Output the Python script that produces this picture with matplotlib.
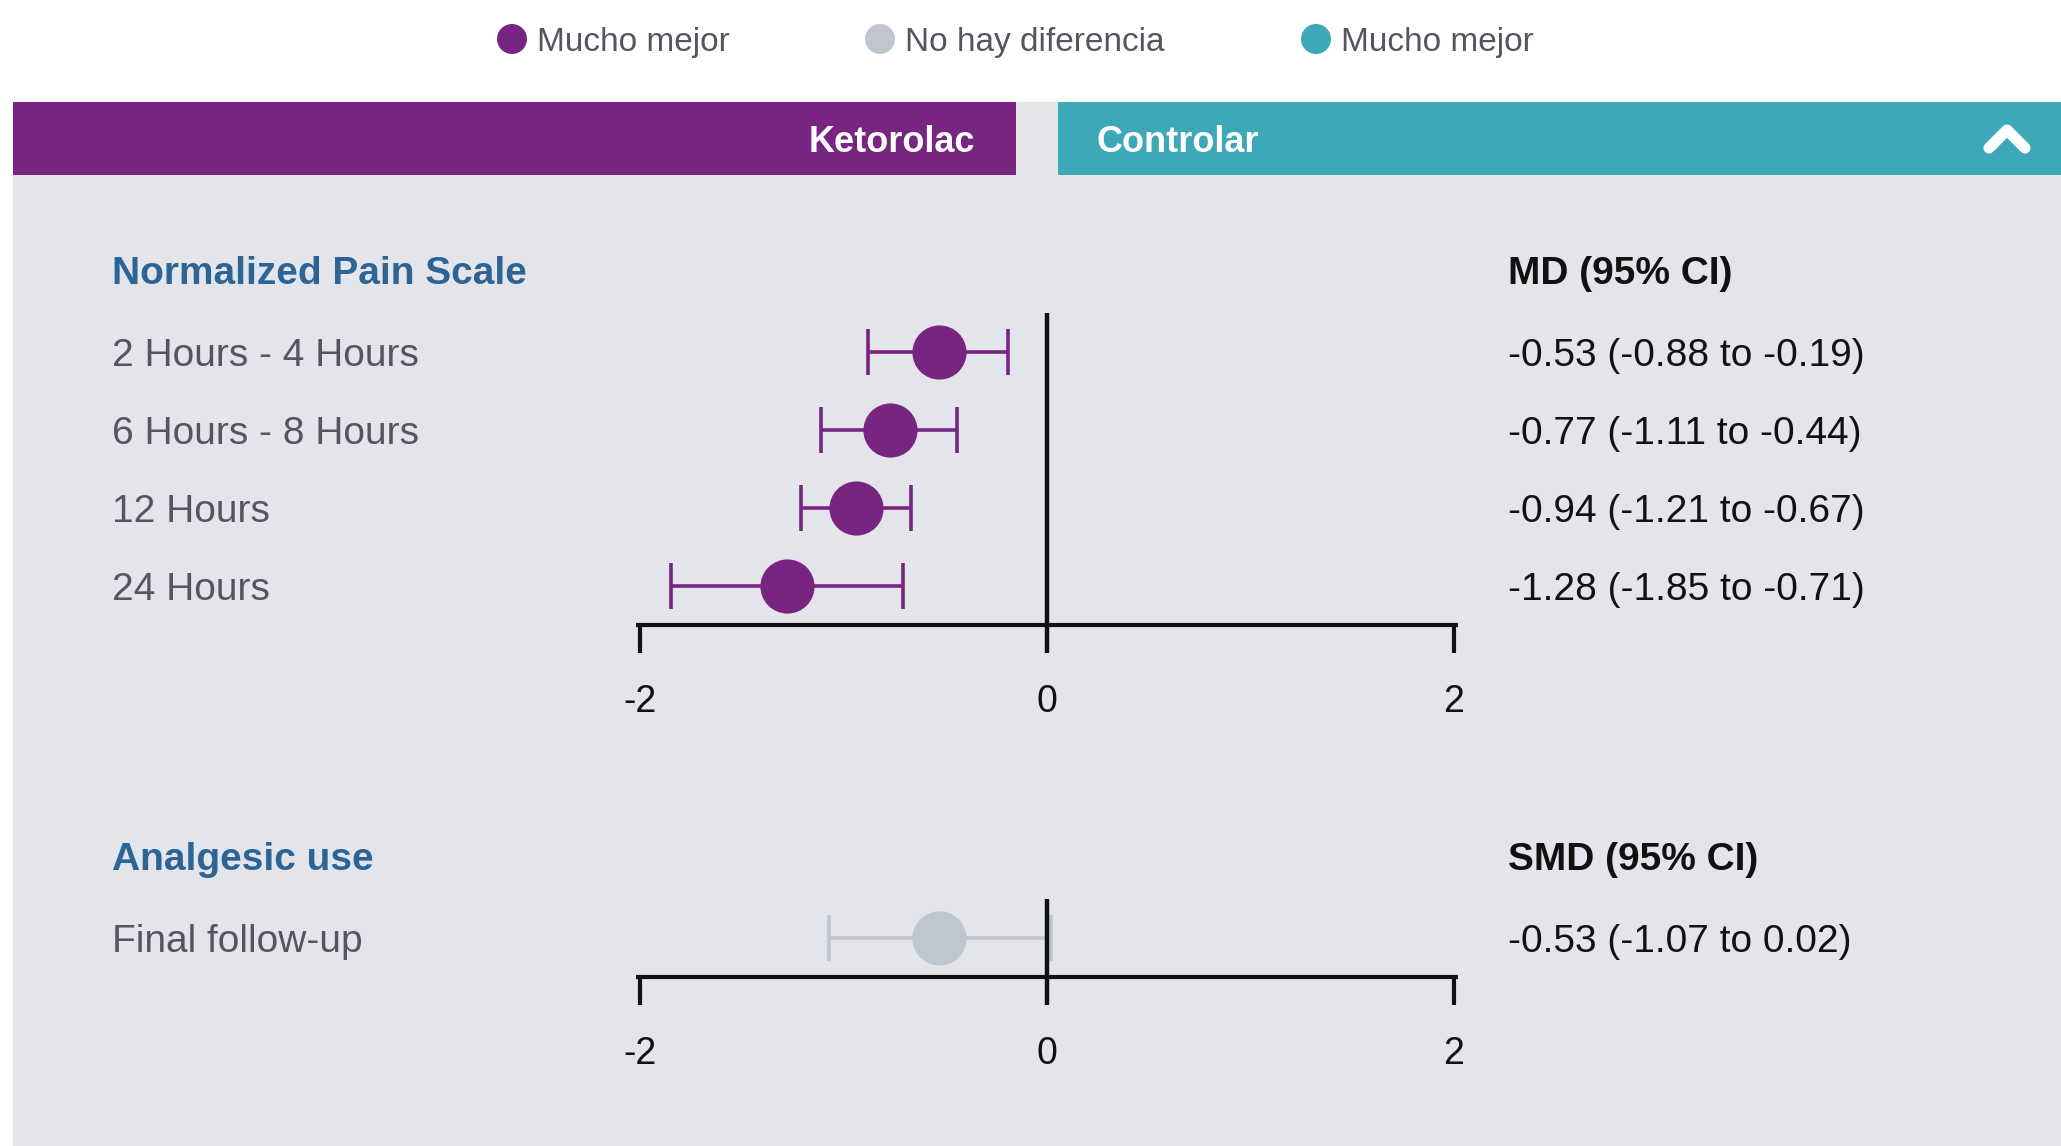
import matplotlib
matplotlib.use("Agg")
import matplotlib.pyplot as plt
from matplotlib.patches import Rectangle
from matplotlib.lines import Line2D

plt.rcParams['font.family'] = ['Liberation Sans', 'DejaVu Sans']

# ---------------- data ----------------
legend_labels = ["Mucho mejor", "No hay diferencia", "Mucho mejor"]
header_left = "Ketorolac"
header_right = "Controlar"

sec1_title = "Normalized Pain Scale"
sec1_stat = "MD (95% CI)"
sec1_labels = ["2 Hours - 4 Hours", "6 Hours - 8 Hours", "12 Hours", "24 Hours"]
sec1_est = [-0.53, -0.77, -0.94, -1.28]
sec1_lo = [-0.88, -1.11, -1.21, -1.85]
sec1_hi = [-0.19, -0.44, -0.67, -0.71]

sec2_title = "Analgesic use"
sec2_stat = "SMD (95% CI)"
sec2_labels = ["Final follow-up"]
sec2_est = [-0.53]
sec2_lo = [-1.07]
sec2_hi = [0.02]

x_ticks = [-2, 0, 2]
x_ticklabels = ["-2", "0", "2"]

# ---------------- style ----------------
PURPLE = "#772581"
TEAL = "#3ca8b8"
GRAY = "#bec6cf"
PANEL = "#e4e5ea"
BLUE = "#2c6496"
LABEL = "#55555f"
DARK = "#111111"

W, H = 2061, 1146
fig = plt.figure(figsize=(W / 100, H / 100), dpi=100)
fig.patch.set_facecolor("white")


def fx(px):
    return px / W


def fy(py):
    return 1 - py / H


# panel background
fig.patches.append(Rectangle((fx(13), fy(H)), fx(W) - fx(13), fy(102) - fy(H),
                             transform=fig.transFigure, facecolor=PANEL, edgecolor="none", zorder=-2))
# header bars
fig.patches.append(Rectangle((fx(13), fy(175)), fx(1016) - fx(13), fy(102) - fy(175),
                             transform=fig.transFigure, facecolor=PURPLE, edgecolor="none", zorder=-1))
fig.patches.append(Rectangle((fx(1058), fy(175)), fx(W) - fx(1058), fy(102) - fy(175),
                             transform=fig.transFigure, facecolor=TEAL, edgecolor="none", zorder=-1))
fig.text(fx(975), fy(138), header_left, color="white", fontsize=26, fontweight="bold",
         ha="right", va="center_baseline")
fig.text(fx(1097), fy(138), header_right, color="white", fontsize=26, fontweight="bold",
         ha="left", va="center_baseline")
# chevron icon
fig.lines.append(Line2D([fx(1989), fx(2007), fx(2025)], [fy(148), fy(130), fy(148)],
                        transform=fig.transFigure, color="white", lw=8,
                        solid_capstyle="round", solid_joinstyle="round"))

# legend
leg_colors = [PURPLE, GRAY, TEAL]
leg_cx = [512, 880, 1316]
leg_ax = fig.add_axes([0, 0, 1, 1], facecolor="none")
leg_ax.set_zorder(5)
leg_ax.set_xlim(0, W)
leg_ax.set_ylim(H, 0)
leg_ax.axis("off")
leg_ax.scatter(leg_cx, [39] * 3, s=(30 * 0.72) ** 2, c=leg_colors, linewidths=0)
for lab, col, cx in zip(legend_labels, leg_colors, leg_cx):
    fig.text(fx(cx + 25), fy(39), lab, color=LABEL, fontsize=24, ha="left", va="center_baseline")


def color_for(lo, hi):
    if hi < 0:
        return PURPLE
    if lo > 0:
        return TEAL
    return GRAY


X_M2, X_P2 = 640, 1454
UNIT = (X_P2 - X_M2) / 4
ROW = 78


def section(title, stat, labels, est, lo, hi, top_row_px, title_px):
    n = len(labels)
    ax_x0, ax_x1 = 540, 1560
    ax_y0, ax_y1 = top_row_px - 70, top_row_px + ROW * (n - 1) + 170
    ax = fig.add_axes([fx(ax_x0), fy(ax_y1), fx(ax_x1) - fx(ax_x0), fy(ax_y0) - fy(ax_y1)],
                      facecolor="none")
    ax.set_zorder(6)
    ax.set_xlim(-2 - (X_M2 - ax_x0) / UNIT, 2 + (ax_x1 - X_P2) / UNIT)
    ax.set_ylim((ax_y1 - top_row_px) / ROW, (ax_y0 - top_row_px) / ROW)
    ax.axis("off")

    axis_y = n - 0.5
    tick_bot = axis_y + 0.36
    # axis line
    ax.hlines(axis_y, x_ticks[0] - 0.02, x_ticks[-1] + 0.02, color=DARK, lw=3, zorder=3)
    for t, tl in zip(x_ticks, x_ticklabels):
        if t != 0:
            ax.vlines(t, axis_y, tick_bot, color=DARK, lw=3, zorder=3)
        ax.text(t, axis_y + 0.94, tl, color=DARK, fontsize=27, ha="center", va="center_baseline")
    # zero line
    ax.vlines(0, -0.5, tick_bot, color=DARK, lw=3.2, zorder=4)

    for i, (lab, e, l, h) in enumerate(zip(labels, est, lo, hi)):
        c = color_for(l, h)
        ax.errorbar([e], [i], xerr=[[e - l], [h - e]], fmt="none", ecolor=c,
                    elinewidth=2.6, capsize=16.5, capthick=2.6, zorder=2)
        ax.plot([e], [i], "o", color=c, markersize=39, markeredgewidth=0, zorder=2.5)
        fig.text(fx(112), fy(top_row_px + ROW * i), lab, color=LABEL, fontsize=28,
                 ha="left", va="center_baseline")
        fig.text(fx(1508), fy(top_row_px + ROW * i), f"{e:.2f} ({l:.2f} to {h:.2f})",
                 color=DARK, fontsize=28, ha="left", va="center_baseline")

    fig.text(fx(112), fy(title_px), title, color=BLUE, fontsize=28, fontweight="bold",
             ha="left", va="center_baseline")
    fig.text(fx(1508), fy(title_px), stat, color=DARK, fontsize=28, fontweight="bold",
             ha="left", va="center_baseline")


section(sec1_title, sec1_stat, sec1_labels, sec1_est, sec1_lo, sec1_hi, 352, 270)
section(sec2_title, sec2_stat, sec2_labels, sec2_est, sec2_lo, sec2_hi, 938, 856)

fig.savefig("out.png", dpi=100, facecolor=fig.get_facecolor())
